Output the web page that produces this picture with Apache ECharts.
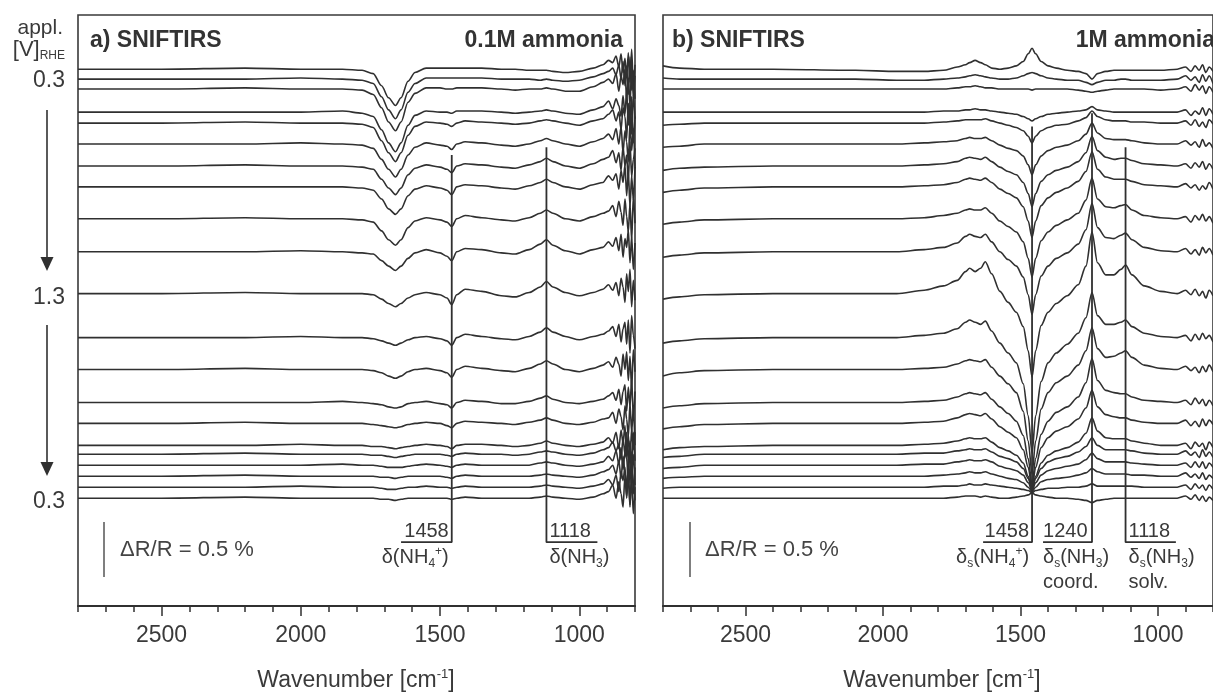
<!DOCTYPE html>
<html><head><meta charset="utf-8">
<script src="https://cdn.jsdelivr.net/npm/echarts@6/dist/echarts.min.js"></script>
<style>html,body{margin:0;padding:0;background:#fff}#c{width:1213px;height:695px}</style>
</head><body><div id="c"></div>
<script>
// ---------- DATA (ΔR/R in units of 0.01 %) ----------
const potentials = [0.3,0.4,0.5,0.6,0.7,0.8,0.9,1.0,1.1,1.2,1.3,1.2,1.1,1.0,0.9,0.8,0.7,0.6,0.5,0.4,0.3];
const offsets = [488,479,470,449,439,420,400,381,352,322,284,244,215,185,166,146,138,128,118,108,98];
const xTickLabels = [2500,2000,1500,1000];

// panel a) 0.1 M ammonia
const WL = [2800,2500,2200,2000,1850,1780,1740,1710,1685,1660,1640,1615,1590,1550,1500,1475,1458,1440,1410,1350,1280,1230,1180,1140,1118,1095,1050,1000,950];
const WLT = [915,895,880,868,858,850,843,836,830,824,818,812,806,800];
const specA = [
[0,0,1,0,0,-1,-4,-15,-26,-33,-26,-11,-3,1,1,1,1,1,1,1,0,0,-1,-1,-1,-2,-3,-2,1],
[0,0,0,1,0,-1,-4,-16,-28,-36,-28,-12,-4,1,1,1,1,1,1,1,0,0,0,-1,0,-1,-2,-1,2],
[0,0,1,0,0,-1,-5,-17,-30,-38,-30,-12,-4,1,1,0,0,1,1,1,0,-1,0,0,1,0,-2,-2,2],
[0,0,0,0,1,-1,-4,-16,-28,-36,-28,-12,-3,1,0,0,-1,1,1,1,0,-1,0,1,2,1,-1,-2,2],
[0,0,1,0,0,-1,-4,-16,-27,-35,-27,-11,-3,1,0,-1,-3,0,2,1,0,-1,0,2,3,2,0,-2,2],
[0,0,0,1,0,-1,-4,-14,-23,-30,-23,-10,-3,1,-1,-2,-5,0,2,1,-1,-2,0,3,5,3,0,-2,2],
[0,0,1,0,0,-1,-3,-12,-20,-26,-20,-8,-2,1,-1,-3,-6,0,2,1,-1,-2,1,4,7,4,0,-2,2],
[0,0,0,0,0,-1,-3,-11,-20,-25,-20,-8,-2,1,-1,-3,-7,0,2,1,-1,-2,1,4,7,4,0,-2,2],
[0,0,1,0,0,-1,-3,-11,-19,-24,-19,-8,-2,1,-1,-3,-7,0,3,1,-1,-2,1,5,8,5,0,-2,2],
[0,0,0,1,0,-1,-2,-8,-13,-17,-13,-6,-1,2,-1,-4,-8,0,3,2,-1,-2,2,7,11,6,1,-2,2],
[0,0,1,0,0,0,-1,-5,-9,-12,-9,-4,-1,1,-1,-4,-10,-1,4,2,-2,-3,1,6,11,6,1,-2,1],
[0,0,0,1,0,0,-1,-3,-5,-7,-5,-2,0,1,-1,-3,-7,0,3,1,-1,-2,1,5,9,5,1,-2,1],
[0,0,1,0,0,0,-1,-3,-6,-8,-6,-2,0,1,-1,-3,-7,0,3,1,-1,-2,1,5,8,5,0,-2,1],
[0,0,0,0,1,0,-1,-2,-4,-5,-4,-1,0,1,-1,-2,-5,0,2,1,-1,-1,1,4,6,3,0,-1,1],
[0,0,1,0,0,0,-1,-2,-3,-4,-3,-1,0,1,0,-2,-4,0,2,1,0,-1,1,3,5,3,0,-1,1],
[0,0,0,1,0,0,-1,-1,-2,-3,-2,-1,0,1,0,-1,-3,0,1,1,0,-1,0,2,4,2,0,-1,1],
[0,0,1,0,0,0,-1,-1,-2,-3,-2,-1,0,0,0,-1,-2,0,1,0,0,-1,0,2,3,2,0,-1,1],
[0,0,0,0,1,0,0,-1,-2,-2,-2,-1,0,1,0,-1,-2,0,1,0,0,0,0,2,3,2,0,-1,1],
[0,0,1,0,0,0,0,-1,-1,-2,-1,0,0,0,0,-1,-2,0,1,0,0,0,0,1,2,1,0,-1,1],
[0,0,0,1,0,0,0,-1,-2,-2,-1,0,0,1,0,0,-1,0,1,0,0,0,0,1,2,1,0,-1,1],
[0,0,1,0,0,0,0,-1,-1,-2,-1,0,0,0,0,0,-1,0,1,0,0,0,0,1,2,1,0,-1,1]
];
const tailA = [
[4,8,6,12,2,14,-3,10,-8,15,-12,18,-16,4],
[5,7,10,4,13,0,16,-6,12,-14,20,-10,8,-18],
[6,9,5,14,-2,12,4,18,-10,10,-16,22,-8,12],
[5,10,3,12,6,-4,15,-2,20,-12,8,-20,16,-6],
[4,8,12,2,10,-6,14,6,-14,18,-4,24,-18,6],
[5,9,4,14,0,16,-8,12,2,-16,20,-6,14,-22],
[6,8,14,3,12,-4,18,0,10,-14,22,-10,6,16],
[4,10,6,12,-2,15,4,20,-8,14,-18,10,-12,18],
[5,7,12,2,16,6,-6,18,2,-12,14,-20,20,-4],
[4,9,5,13,1,16,-5,12,4,20,-10,14,-16,8],
[4,8,3,10,-2,14,6,-8,18,2,22,-12,12,-6],
[3,6,10,1,12,-4,8,14,-6,16,-14,20,2,-10],
[4,7,2,11,5,-6,14,0,16,-10,12,-18,18,-2],
[3,6,9,2,12,-2,10,16,-8,14,-4,22,-14,10],
[4,5,10,0,13,6,-6,16,4,-12,18,-8,14,-20],
[3,7,2,12,-3,14,2,18,-10,10,-16,16,-4,12],
[4,6,11,3,9,-5,15,0,20,-8,12,-14,20,-6],
[3,8,4,13,1,16,-4,12,6,-14,20,-10,10,-18],
[4,6,10,2,14,-2,18,4,-12,16,-6,22,-16,8],
[3,7,2,11,-4,14,6,18,-10,12,-18,16,4,-12],
[4,6,12,0,15,4,-8,20,2,24,-6,18,-14,10]
];

// panel b) 1 M ammonia
const WR = [2800,2740,2650,2400,2100,1950,1850,1780,1730,1700,1685,1665,1645,1628,1605,1575,1545,1515,1490,1472,1458,1445,1425,1400,1370,1330,1290,1262,1240,1220,1190,1160,1135,1118,1095,1050,990,930];
const WRT = [900,880,865,850,838,826,814,800];
const specB = [
[3,1,0,0,-1,-2,-2,-1,2,4,6,8,6,4,1,0,1,3,7,14,19,14,7,3,1,-1,-2,-4,-9,-4,-2,-1,-1,-1,-1,-1,-1,0],
[1,0,0,0,0,-1,-1,0,1,2,3,4,3,2,1,0,0,1,3,5,6,5,3,1,0,-1,-1,-3,-5,-3,-1,-1,0,0,-1,-1,-1,0],
[0,0,0,0,0,0,0,0,1,2,2,3,2,1,1,0,0,0,0,0,-1,0,0,0,0,0,-1,-2,-3,-2,-1,0,0,0,0,0,-1,0],
[0,0,0,0,0,0,0,1,1,2,2,3,2,2,1,0,-1,-2,-4,-6,-8,-6,-4,-2,-1,0,1,2,5,2,1,0,0,0,0,0,0,0],
[-2,-1,0,0,0,0,0,1,2,3,3,3,3,4,2,0,-2,-4,-7,-12,-18,-12,-7,-4,-2,-1,2,5,11,6,3,2,2,2,1,1,0,0],
[-3,-2,0,0,0,0,1,2,3,5,6,5,5,6,3,-1,-4,-6,-11,-19,-28,-19,-11,-6,-3,-1,3,9,19,10,5,4,4,4,3,1,0,0],
[-4,-2,-1,0,0,0,1,2,4,7,8,7,6,8,4,-1,-5,-8,-15,-25,-37,-25,-14,-8,-4,-1,4,12,27,14,8,6,7,7,5,2,1,0],
[-5,-3,-1,0,0,0,1,2,4,7,8,7,6,8,4,-2,-6,-10,-18,-31,-46,-31,-17,-10,-5,-1,5,14,32,16,9,7,7,7,5,2,1,0],
[-5,-3,-1,0,0,0,1,3,5,8,9,8,8,10,5,-2,-7,-12,-21,-36,-53,-36,-20,-12,-6,-1,5,17,37,18,11,10,12,13,8,3,1,0],
[-5,-3,-1,0,0,0,2,4,8,14,16,14,13,16,9,0,-7,-13,-23,-39,-57,-39,-22,-13,-6,-1,7,20,44,22,13,12,15,17,11,4,1,0],
[-5,-3,-1,0,0,0,3,7,12,20,23,20,23,29,18,2,-8,-17,-30,-52,-76,-52,-29,-17,-9,-2,8,25,56,28,17,17,22,26,17,7,2,0],
[-5,-3,-1,0,0,0,2,4,8,14,16,14,12,15,6,-5,-14,-23,-42,-71,-105,-71,-40,-23,-14,-6,4,18,41,20,12,12,14,16,10,4,1,0],
[-6,-3,-1,0,0,0,1,2,5,8,9,8,7,9,2,-6,-13,-21,-38,-65,-95,-65,-36,-21,-12,-6,4,17,38,19,11,12,15,17,11,4,1,0],
[-5,-3,-1,0,0,0,1,2,5,8,9,8,7,9,3,-4,-10,-17,-30,-51,-75,-51,-29,-17,-9,-4,5,18,40,20,11,9,8,8,5,2,1,0],
[-5,-3,-1,0,0,0,1,2,5,8,9,8,7,9,4,-3,-8,-13,-24,-40,-59,-40,-22,-13,-7,-3,4,14,30,15,8,6,5,5,3,1,0,0],
[-4,-2,-1,0,0,0,1,2,4,6,7,6,6,7,3,-2,-5,-9,-16,-28,-41,-28,-16,-9,-5,-2,3,11,25,13,7,6,6,6,4,2,0,0],
[-3,-2,0,0,0,0,1,1,3,4,5,4,4,5,2,-2,-4,-7,-13,-22,-33,-22,-13,-7,-4,-2,2,7,15,8,4,4,4,4,3,1,0,0],
[-3,-2,0,0,0,0,1,1,3,4,5,4,4,5,3,-1,-3,-5,-9,-16,-23,-16,-9,-5,-3,-1,1,5,11,6,3,3,3,3,2,1,0,0],
[-2,-1,0,0,0,0,0,1,2,3,4,3,3,4,2,0,-2,-3,-6,-10,-14,-10,-5,-3,-2,-1,1,3,7,4,2,2,2,2,1,1,0,0],
[-1,0,0,0,0,0,0,1,1,2,3,2,2,3,2,1,0,-1,-2,-3,-5,-3,-2,-1,-1,0,0,1,3,1,1,1,1,1,1,0,0,0],
[0,0,0,0,0,0,0,0,1,2,2,2,1,2,1,0,0,1,2,3,5,3,2,1,0,0,-1,-2,-4,-2,-1,0,0,0,0,0,0,0]
];
const tailB = [
[2,-2,3,-1,4,-3,2,-2],[3,-1,2,-3,4,-2,3,-4],[2,-2,4,-1,3,-4,2,-3],[2,-3,1,-2,4,-3,3,-2],
[2,-2,3,-3,1,-4,3,-1],[3,-1,2,-3,4,-2,1,-4],[2,-2,3,-1,4,-3,2,-3],[3,-1,2,-3,1,-2,4,-2],
[2,-3,3,-1,4,-2,2,-4],[3,-2,2,-3,4,-1,3,-3],[3,-1,4,-2,2,-4,3,-2],[2,-3,3,-2,4,-1,2,-4],
[3,-1,2,-3,3,-2,4,-2],[2,-2,4,-1,3,-3,2,-3],[3,-2,2,-3,4,-2,3,-1],[2,-3,3,-1,2,-4,3,-2],
[3,-1,2,-3,4,-2,2,-3],[2,-2,3,-2,3,-3,2,-2],[3,-1,2,-2,3,-3,1,-2],[2,-2,3,-1,2,-3,2,-2],
[2,-1,3,-2,2,-3,1,-2]
];

// band assignments (wavenumber, bracket extent in data units)
const bandsA = [
  {band:1458, top:410, bottom:58, end:1640, num:'1458', anchor:'bandLeft', lines:['{t|δ(NH}{sb|4}{sp|+}{t|)}']},
  {band:1118, top:417, bottom:58, end:935, num:'1118', anchor:'bandRight', lines:['{t|δ(NH}{sb|3}{t|)}']}
];
const bandsB = [
  {band:1458, top:436, bottom:58, end:1636, num:'1458', anchor:'bandLeft', lines:['{t|δ}{sb|s}{t|(NH}{sb|4}{sp|+}{t|)}']},
  {band:1240, top:448, bottom:58, end:1418, num:'1240', anchor:'end', lines:['{t|δ}{sb|s}{t|(NH}{sb|3}{t|)}','{t|coord.}']},
  {band:1118, top:417, bottom:58, end:935, num:'1118', anchor:'bandRight', lines:['{t|δ}{sb|s}{t|(NH}{sb|3}{t|)}','{t|solv.}']}
];

// ---------- CHART ----------
const FONT = "'Liberation Sans', Arial, Helvetica, sans-serif";
const INK = '#303030';
const TXT = '#3a3a3a';
const YMAX = 537.27;

function spectra(W, WT, spec, tail, axis) {
  return spec.map((vals, k) => ({
    type: 'line', name: potentials[k] + ' V', xAxisIndex: axis * 2, yAxisIndex: axis,
    data: W.map((w, i) => [w, offsets[k] + vals[i]]).concat(WT.map((w, i) => [w, offsets[k] + tail[k][i]])),
    showSymbol: false, symbol: 'none', smooth: 0.3, smoothMonotone: 'x', silent: true,
    lineStyle: { color: INK, width: 1.6 }, z: 2
  }));
}
function brackets(bands, axis) {
  return bands.map(b => ({
    type: 'line', xAxisIndex: axis * 2, yAxisIndex: axis, silent: true, showSymbol: false, symbol: 'none',
    data: [[b.band, b.top], [b.band, b.bottom], [b.end, b.bottom]],
    lineStyle: { color: INK, width: 1.8 }, z: 3
  }));
}
function xAxes(gi) {
  return [
    { type: 'value', gridIndex: gi, position: 'bottom', inverse: true, min: 800, max: 2800, interval: 100,
      axisLine: { show: true, onZero: false, lineStyle: { color: INK, width: 2 } },
      axisTick: { show: true, length: 6, lineStyle: { color: INK, width: 1.5 } },
      axisLabel: { show: true, customValues: xTickLabels, formatter: v => String(v), margin: 18,
        fontSize: 23, fontFamily: FONT, color: TXT },
      splitLine: { show: false } },
    { type: 'value', gridIndex: gi, position: 'bottom', offset: 0, inverse: true, min: 800, max: 2800, interval: 100,
      axisLine: { show: false, onZero: false },
      axisTick: { show: true, length: 10, customValues: xTickLabels, lineStyle: { color: INK, width: 1.5 } },
      axisLabel: { show: false }, splitLine: { show: false } }
  ];
}

const chart = echarts.init(document.getElementById('c'), null, { renderer: 'canvas' });
const gridStyle = { show: true, borderColor: '#3a3a3a', borderWidth: 1.6, backgroundColor: 'rgba(0,0,0,0)' };
chart.setOption({
  animation: false,
  backgroundColor: '#fff',
  grid: [
    Object.assign({ left: 78, right: 578, top: 15, bottom: 89 }, gridStyle),
    Object.assign({ left: 663, right: -8, top: 15, bottom: 89 }, gridStyle)
  ],
  xAxis: xAxes(0).concat(xAxes(1)),
  yAxis: [0, 1].map(gi => ({ type: 'value', gridIndex: gi, min: 0, max: YMAX, show: false })),
  series: spectra(WL, WLT, specA, tailA, 0)
    .concat(spectra(WR, WRT, specB, tailB, 1))
    .concat(brackets(bandsA, 0)).concat(brackets(bandsB, 1))
});

const rich = {
  t: { fontSize: 20, fontFamily: FONT, fill: TXT, lineHeight: 24 },
  sb: { fontSize: 12, fontFamily: FONT, fill: TXT, verticalAlign: 'bottom', lineHeight: 10 },
  sp: { fontSize: 12, fontFamily: FONT, fill: TXT, verticalAlign: 'top', lineHeight: 10 }
};
const g = [];
function txt(text, x, y, o) {
  g.push({ type: 'text', silent: true, z: 10, style: Object.assign({ text, x, y, fill: TXT,
    font: (o && o.font) || ('22px ' + FONT), align: 'left', verticalAlign: 'middle' }, o || {}) });
}
function bandLabels(bands, axis) {
  bands.forEach(b => {
    const pb = chart.convertToPixel({ xAxisIndex: axis * 2, yAxisIndex: axis }, [b.band, b.bottom]);
    const pe = chart.convertToPixel({ xAxisIndex: axis * 2, yAxisIndex: axis }, [b.end, b.bottom]);
    let x, align;
    if (b.anchor === 'bandLeft') { x = pb[0] - 3; align = 'right'; }
    else if (b.anchor === 'bandRight') { x = pb[0] + 3; align = 'left'; }
    else { x = pe[0]; align = 'left'; }
    txt(b.num, x, pb[1] - 1, { font: '20px ' + FONT, align, verticalAlign: 'bottom' });
    b.lines.forEach((ln, j) => {
      g.push({ type: 'text', silent: true, z: 10, style: { text: ln, rich, x, y: pb[1] + 3 + j * 25,
        align, verticalAlign: 'top', font: '20px ' + FONT, fill: TXT } });
    });
  });
}
bandLabels(bandsA, 0);
bandLabels(bandsB, 1);

// titles
txt('a) SNIFTIRS', 90, 41, { font: 'bold 23px ' + FONT, fill: '#333' });
txt('0.1M ammonia', 623, 41, { font: 'bold 23px ' + FONT, fill: '#333', align: 'right' });
txt('b) SNIFTIRS', 672, 41, { font: 'bold 23px ' + FONT, fill: '#333' });
txt('1M ammonia', 1215, 41, { font: 'bold 23px ' + FONT, fill: '#333', align: 'right' });
// potential axis labels
txt('appl.', 63, 28, { font: '21px ' + FONT, align: 'right' });
g.push({ type: 'text', silent: true, style: { text: '{a|[V]}{b|RHE}', x: 65, y: 50, align: 'right', verticalAlign: 'middle',
  rich: { a: { fontSize: 22, fontFamily: FONT, fill: TXT, lineHeight: 24 },
          b: { fontSize: 12, fontFamily: FONT, fill: TXT, verticalAlign: 'bottom', lineHeight: 12 } } } });
txt(potentials[0].toFixed(1), 65, 81, { font: '23px ' + FONT, align: 'right' });
txt(potentials[10].toFixed(1), 65, 298, { font: '23px ' + FONT, align: 'right' });
txt(potentials[20].toFixed(1), 65, 502, { font: '23px ' + FONT, align: 'right' });
// arrows
[[110, 258], [325, 463]].forEach(([a, b]) => {
  g.push({ type: 'line', silent: true, shape: { x1: 47, y1: a, x2: 47, y2: b }, style: { stroke: INK, lineWidth: 1.6 } });
  g.push({ type: 'polygon', silent: true, shape: { points: [[40.5, b - 1], [53.5, b - 1], [47, b + 13]] }, style: { fill: INK } });
});
// scale bars
[[104, 120], [690, 705]].forEach(([bx, tx]) => {
  g.push({ type: 'line', silent: true, shape: { x1: bx, y1: 522, x2: bx, y2: 577 }, style: { stroke: '#555', lineWidth: 1.5 } });
  txt('ΔR/R = 0.5 %', tx, 550, { font: '22px ' + FONT, fill: '#444' });
});
// axis titles
[356, 942].forEach(cx => {
  g.push({ type: 'text', silent: true, style: { text: '{a|Wavenumber [cm}{b|-1}{a|]}', x: cx, y: 681, align: 'center', verticalAlign: 'middle',
    rich: { a: { fontSize: 23, fontFamily: FONT, fill: TXT, lineHeight: 26 },
            b: { fontSize: 13, fontFamily: FONT, fill: TXT, verticalAlign: 'top', lineHeight: 12 } } } });
});
chart.setOption({ graphic: g });
</script></body></html>
